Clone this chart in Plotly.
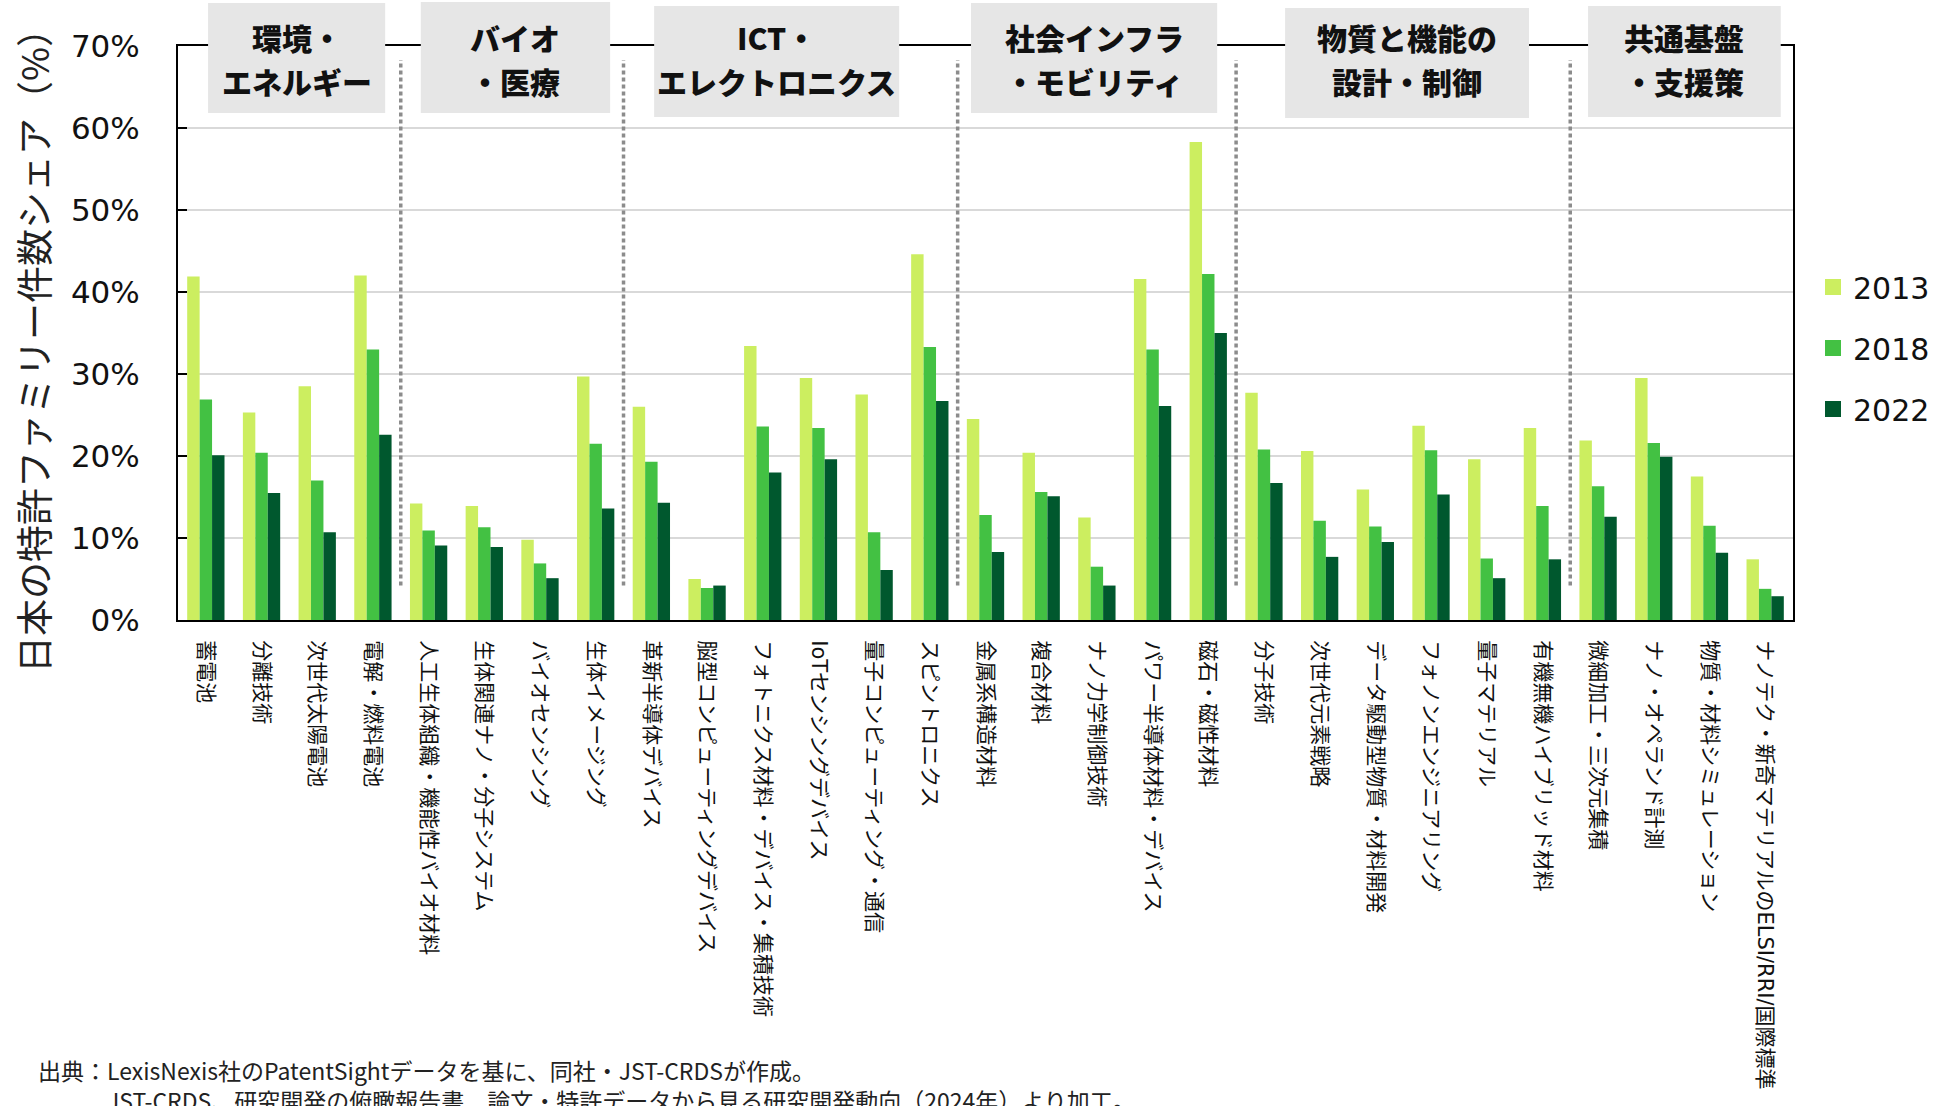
import plotly.graph_objects as go

categories = ["蓄電池", "分離技術", "次世代太陽電池", "電解・燃料電池",
              "人工生体組織・機能性バイオ材料", "生体関連ナノ・分子システム", "バイオセンシング", "生体イメージング",
              "革新半導体デバイス", "脳型コンピューティングデバイス", "フォトニクス材料・デバイス・集積技術",
              "IoTセンシングデバイス", "量子コンピューティング・通信", "スピントロニクス",
              "金属系構造材料", "複合材料", "ナノ力学制御技術", "パワー半導体材料・デバイス", "磁石・磁性材料",
              "分子技術", "次世代元素戦略", "データ駆動型物質・材料開発", "フォノンエンジニアリング",
              "量子マテリアル", "有機無機ハイブリッド材料",
              "微細加工・三次元集積", "ナノ・オペランド計測", "物質・材料シミュレーション",
              "ナノテク・新奇マテリアルのELSI/RRI/国際標準"]

share_2013 = [41.9, 25.3, 28.5, 42.0, 14.2, 13.9, 9.8, 29.7, 26.0, 5.0, 33.4, 29.5, 27.5, 44.6,
              24.5, 20.4, 12.5, 41.6, 58.3, 27.7, 20.6, 15.9, 23.7, 19.6, 23.4, 21.9, 29.5, 17.5, 7.4]
share_2018 = [26.9, 20.4, 17.0, 33.0, 10.9, 11.3, 6.9, 21.5, 19.3, 3.9, 23.6, 23.4, 10.7, 33.3,
              12.8, 15.6, 6.5, 33.0, 42.2, 20.8, 12.1, 11.4, 20.7, 7.5, 13.9, 16.3, 21.6, 11.5, 3.8]
share_2022 = [20.1, 15.5, 10.7, 22.6, 9.1, 8.9, 5.1, 13.6, 14.3, 4.2, 18.0, 19.6, 6.1, 26.7,
              8.3, 15.1, 4.2, 26.1, 35.0, 16.7, 7.7, 9.5, 15.3, 5.1, 7.4, 12.6, 19.9, 8.2, 2.9]

years = ["2013", "2018", "2022"]
colors = ["#CCEE60", "#43C143", "#00582E"]

group_lines = [["環境・", "エネルギー"], ["バイオ", "・医療"], ["ICT・", "エレクトロニクス"],
               ["社会インフラ", "・モビリティ"], ["物質と機能の", "設計・制御"], ["共通基盤", "・支援策"]]
# box extents in category units (left, right) and pixel top/bottom
box_x = [(0.04, 3.22), (3.86, 7.26), (8.05, 12.45), (13.74, 18.16), (19.38, 23.76), (24.82, 28.28)]
box_py = [(3, 113), (2, 113), (6, 117), (3, 113), (8, 118), (6, 117)]
separators = [3.5, 7.5, 13.5, 18.5, 24.5]

source_lines = ["出典：LexisNexis社のPatentSightデータを基に、同社・JST-CRDSが作成。",
                "　　　JST-CRDS、研究開発の俯瞰報告書　論文・特許データから見る研究開発動向（2024年）より加工。"]

W, H = 1953, 1106
L, R, T, B = 178, 1793, 46, 620
ncat = len(categories)


def px_x(c):
    return (c + 0.5) / ncat


def py(p):
    return (B - p) / (B - T)


fig = go.Figure()
for yr, vals, col in zip(years, [share_2013, share_2018, share_2022], colors):
    fig.add_trace(go.Bar(x=categories, y=vals, name=yr, marker=dict(color=col, line=dict(width=0)),
                         showlegend=False))
for yr, col in zip(years, colors):
    fig.add_trace(go.Scatter(x=[None], y=[None], mode="markers", name=yr, legendgroup=yr,
                             marker=dict(symbol="square", size=20, color=col)))

shapes = []
for s in separators:
    shapes.append(dict(type="line", xref="x", yref="y", x0=s, x1=s, y0=4.2, y1=68.3,
                       line=dict(color="#8c8c8c", width=3.5, dash="4px,3px"), layer="above"))
annotations = []
for (x0, x1), (t, b), lines in zip(box_x, box_py, group_lines):
    shapes.append(dict(type="rect", xref="paper", yref="paper", x0=px_x(x0), x1=px_x(x1),
                       y0=py(b), y1=py(t), fillcolor="#E6E6E6", line=dict(width=0), layer="above"))
    cx = px_x((x0 + x1) / 2)
    for i, ln in enumerate(lines):
        annotations.append(dict(text=ln, xref="paper", yref="paper", x=cx, y=py(36.5 + 44 * i),
                                showarrow=False, xanchor="center", yanchor="middle",
                                font=dict(family="Noto Sans CJK JP", size=30, color="#111111", weight=900)))

annotations.append(dict(text="日本の特許ファミリー件数シェア（%）", xref="paper", yref="paper",
                        x=(33 - L) / (R - L), y=py(342), textangle=-90, showarrow=False,
                        xanchor="center", yanchor="middle",
                        font=dict(family="Noto Sans CJK JP", size=37, color="#222222")))
annotations.append(dict(text="<br>".join(source_lines), xref="paper", yref="paper",
                        x=(36 - L) / (R - L), y=py(1085), align="left",
                        showarrow=False, xanchor="left", yanchor="middle",
                        font=dict(family="Noto Sans CJK JP", size=23, color="#222222")))

fig.update_layout(
    width=W, height=H,
    margin=dict(l=L, r=W - R, t=T, b=H - B, autoexpand=False),
    paper_bgcolor="white", plot_bgcolor="white",
    barmode="group", bargap=0.33, bargroupgap=0,
    shapes=shapes, annotations=annotations,
    legend=dict(x=(1813 - L) / (R - L), xanchor="left", y=py(261), yanchor="top",
                traceorder="grouped", tracegroupgap=19,
                font=dict(family="DejaVu Sans", size=30, color="#111111"),
                bgcolor="rgba(0,0,0,0)"),
    font=dict(family="DejaVu Sans, Noto Sans CJK JP", color="#111111"),
)
fig.update_xaxes(type="category", tickangle=90, showline=True, linecolor="black", linewidth=2,
                 mirror=True, ticks="", showgrid=False, automargin=False, ticklabelstandoff=14,
                 tickfont=dict(family="DejaVu Sans, Noto Sans CJK JP", size=21, color="#111111"))
fig.update_yaxes(range=[0, 70], dtick=10, ticksuffix="%", showline=True, linecolor="black", linewidth=2,
                 mirror=True, ticks="inside", ticklen=9, tickcolor="black", tickwidth=2,
                 showgrid=True, gridcolor="#D9D9D9", gridwidth=2, zeroline=False,
                 automargin=False, ticklabelstandoff=30,
                 tickfont=dict(family="DejaVu Sans", size=31, color="#111111"))

fig.write_html("out.html")
